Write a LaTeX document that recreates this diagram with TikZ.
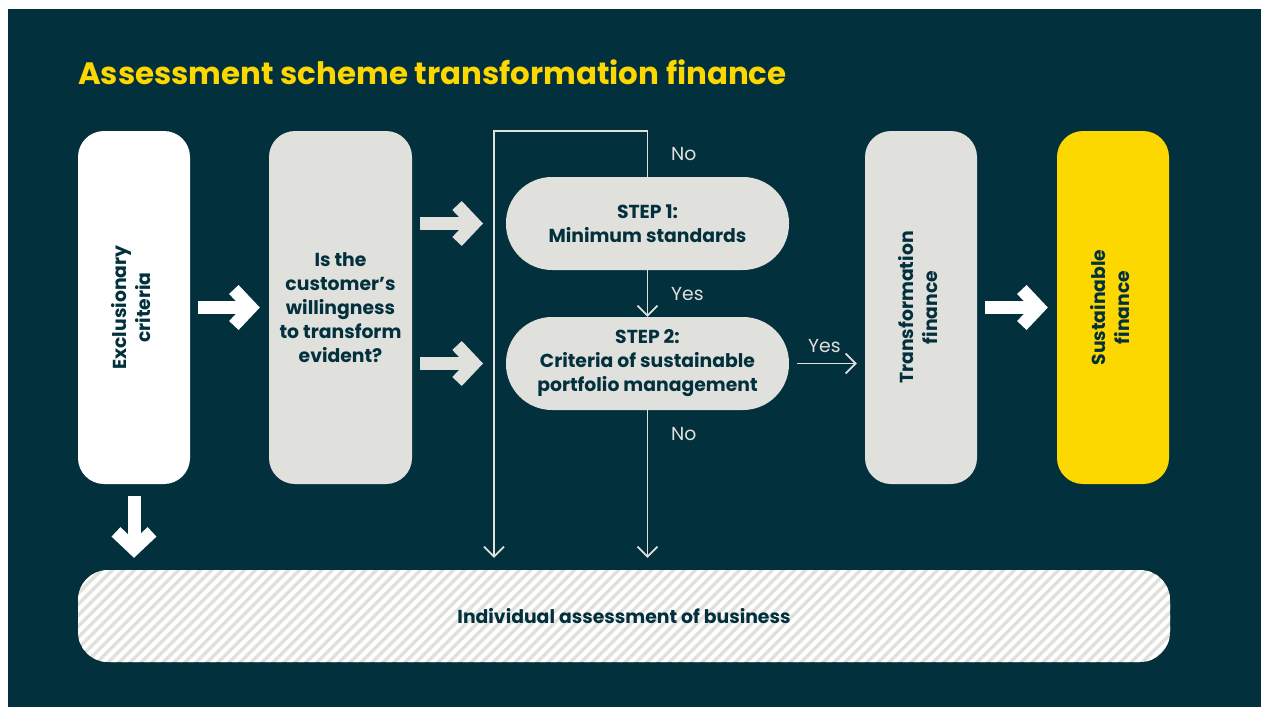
\documentclass[tikz,border=0pt]{standalone}
\usepackage{fontspec}
\setmainfont{Poppins}
\usetikzlibrary{arrows.meta}
\definecolor{bg}{HTML}{03303D}
\definecolor{ylw}{HTML}{FDD700}
\definecolor{lgr}{HTML}{E0E0DC}
\begin{document}
\begin{tikzpicture}[x=1pt,y=-1pt,
  boxtxt/.style={text=bg, font=\bfseries\fontsize{18.8}{24}\selectfont, align=center},
  box/.style={boxtxt, rectangle, rounded corners=26pt, minimum width=112pt, minimum height=353pt, inner sep=0pt},
  stadium/.style={boxtxt, rectangle, rounded corners=46pt, fill=lgr, minimum width=283pt, minimum height=93pt, inner sep=0pt},
  flow/.style={draw=lgr, line width=1.7pt, line join=miter, -{Straight Barb[length=10pt,width=20pt]}},
  lbl/.style={text=lgr, font=\fontsize{18.8}{20}\selectfont, anchor=base west, inner sep=0pt},
  bigarrow/.style={line width=13pt, -{Straight Barb[sharp, length=17pt, width=36pt]}}
]
\useasboundingbox (0,0) rectangle (1261,707);
\fill[white] (0,0) rectangle (1261,707);
\fill[bg] (8,9) rectangle (1261,707);

\node[anchor=base west, text=ylw, font=\bfseries\fontsize{30.9}{36}\selectfont, inner sep=0pt] (title) at (78,84) {Assessment scheme transformation finance};

\node[box, fill=white] (ex) at (134,307.5) {\rotatebox{90}{\begin{tabular}{@{}c@{}}Exclusionary\\criteria\end{tabular}}};
\node[box, fill=lgr, minimum width=143pt] (will) at (340.5,307.5) {Is the\\customer’s\\willingness\\to transform\\evident?};
\node[stadium] (s1) at (647.5,223.5) {STEP 1:\\Minimum standards};
\node[stadium] (s2) at (647.5,363.5) {STEP 2:\\Criteria of sustainable\\portfolio management};
\node[box, fill=lgr] (tf) at (921,307.5) {\rotatebox{90}{\begin{tabular}{@{}c@{}}Transformation\\finance\end{tabular}}};
\node[box, fill=ylw] (sf) at (1113,307.5) {\rotatebox{90}{\begin{tabular}{@{}c@{}}Sustainable\\finance\end{tabular}}};

\node[boxtxt, rectangle, rounded corners=30pt, fill=lgr, minimum width=1092pt, minimum height=92pt, inner sep=0pt,
  path picture={\foreach \x in {-700,-689,...,600} \draw[white, line width=4pt] (\x,60) -- ++(120,-120);}] (ind) at (624,616) {};
\node[boxtxt, inner sep=0pt] (indt) at (ind.center) {Individual assessment of business};

\coordinate (lt) at (494,131);
\coordinate (lb) at ([yshift=12pt]ind.north -| lt);

\draw[flow] (s1.north) |- (lt) -- (lb);
\draw[flow] (s1.south) -- (s2.north);
\draw[flow] (s2.south) -- (s2.south |- lb);
\draw[flow] ([xshift=8pt]s2.east) -- ([xshift=-8pt]tf.west |- s2.east);

\node[lbl] (no1) at (671,160) {No};
\node[lbl] (yes1) at (671,300) {Yes};
\node[lbl] (no2) at (671,440) {No};
\node[lbl] (yes2) at (808,352) {Yes};

\draw[bigarrow, white] ([xshift=8pt]ex.east) -- ([xshift=-9pt]will.west);
\draw[bigarrow, lgr] ([xshift=8pt]will.east |- s1.west) -- ([xshift=-11pt]lt |- s1.west);
\draw[bigarrow, lgr] ([xshift=8pt]will.east |- s2.west) -- ([xshift=-11pt]lt |- s2.west);
\draw[bigarrow, white] ([xshift=8pt]tf.east) -- ([xshift=-9pt]sf.west);
\draw[bigarrow, white] ([yshift=-12pt]ex.south) -- ([yshift=12pt]ind.north -| ex.south);
\end{tikzpicture}
\end{document}
